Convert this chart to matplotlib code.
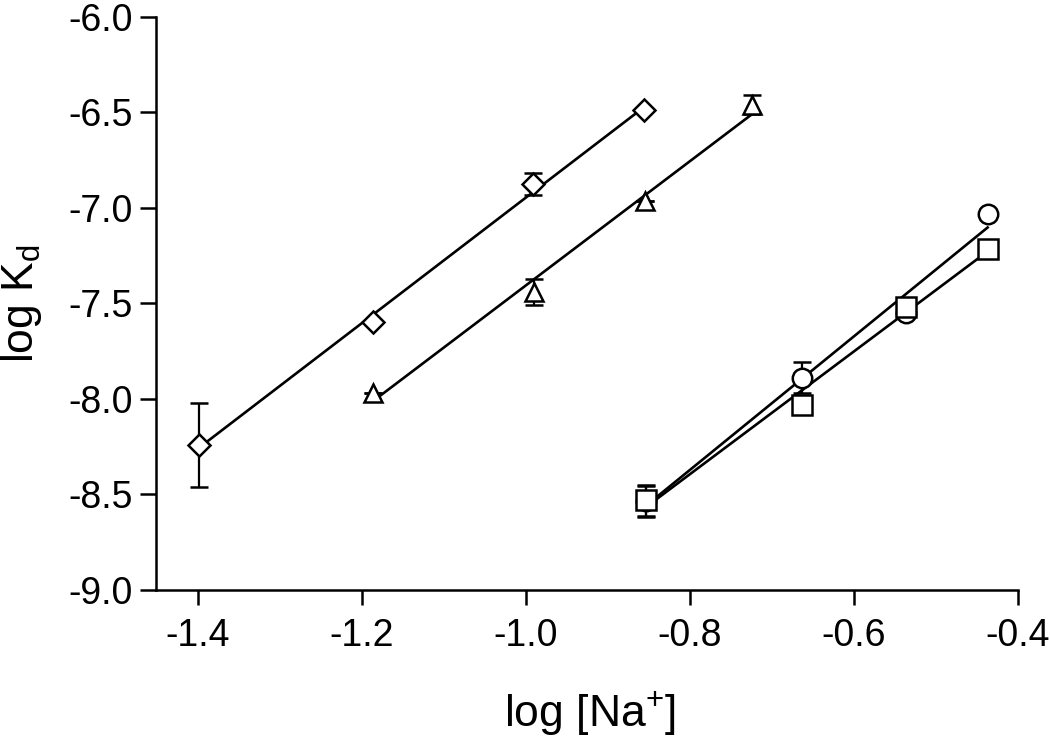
import numpy as np
import matplotlib
matplotlib.use("Agg")
import matplotlib.pyplot as plt

plt.rcParams["font.family"] = ["Liberation Sans", "DejaVu Sans"]
plt.rcParams["mathtext.fontset"] = "custom"
plt.rcParams["mathtext.rm"] = "Liberation Sans"
plt.rcParams["mathtext.it"] = "Liberation Sans"

# ── Data ──────────────────────────────────────────────────────────────────────
diamond_x = [-1.398, -1.187, -0.991, -0.856]
diamond_y = [-8.241, -7.598, -6.874, -6.489]
diamond_err = [0.218, 0.0, 0.056, 0.0]

triangle_x = [-1.187, -0.990, -0.855, -0.724]
triangle_y = [-7.967, -7.440, -6.961, -6.460]
triangle_err = [0.0, 0.070, 0.0, 0.050]

circle_x = [-0.853, -0.663, -0.537, -0.437]
circle_y = [-8.536, -7.888, -7.548, -7.031]
circle_err = [0.082, 0.080, 0.0, 0.0]

square_x = [-0.853, -0.663, -0.537, -0.437]
square_y = [-8.530, -8.030, -7.517, -7.216]
square_err = [0.082, 0.0, 0.0, 0.0]

series = [
    (diamond_x, diamond_y, diamond_err, "D", 11),
    (triangle_x, triangle_y, triangle_err, "^", 12.5),
    (circle_x, circle_y, circle_err, "o", 14),
    (square_x, square_y, square_err, "s", 14),
]

fig = plt.figure(figsize=(10.5, 7.41), dpi=100)
ax = fig.add_axes([0.1486, 0.2038, 0.8209, 0.7733])

for xs, ys, errs, mk, ms in series:
    xs = np.array(xs); ys = np.array(ys)
    # linear regression line over the data range
    slope, icpt = np.polyfit(xs, ys, 1)
    xx = np.array([xs.min(), xs.max()])
    ax.plot(xx, slope * xx + icpt, color="black", lw=1.9, zorder=2)
    ax.errorbar(xs, ys, yerr=errs, fmt="none", ecolor="black", elinewidth=1.6,
                capsize=6.8, capthick=1.8, zorder=3)
    ax.plot(xs, ys, linestyle="none", marker=mk, markersize=ms,
            markerfacecolor="white", markeredgecolor="black",
            markeredgewidth=1.8, zorder=4)

ax.set_xlim(-1.451, -0.4)
ax.set_ylim(-9.0, -6.0)
ax.set_xticks([-1.4, -1.2, -1.0, -0.8, -0.6, -0.4])
ax.set_xticklabels(["-1.4", "-1.2", "-1.0", "-0.8", "-0.6", "-0.4"])
ax.set_yticks([-9.0, -8.5, -8.0, -7.5, -7.0, -6.5, -6.0])
ax.set_yticklabels(["-9.0", "-8.5", "-8.0", "-7.5", "-7.0", "-6.5", "-6.0"])

for s in ["top", "right"]:
    ax.spines[s].set_visible(False)
for s in ["left", "bottom"]:
    ax.spines[s].set_linewidth(1.8)

ax.tick_params(axis="x", length=11, width=1.8, pad=9, labelsize=27)
ax.tick_params(axis="y", length=11.5, width=1.8, pad=5.5, labelsize=27)

ax.set_xlabel("log [Na$^{+}$]", fontsize=32)
ax.set_ylabel("log K$_{\\rm d}$", fontsize=32)
ax.xaxis.set_label_coords(0.503, -0.172)
ax.yaxis.set_label_coords(-0.13, 0.5)

fig.savefig("out.png", dpi=100)
